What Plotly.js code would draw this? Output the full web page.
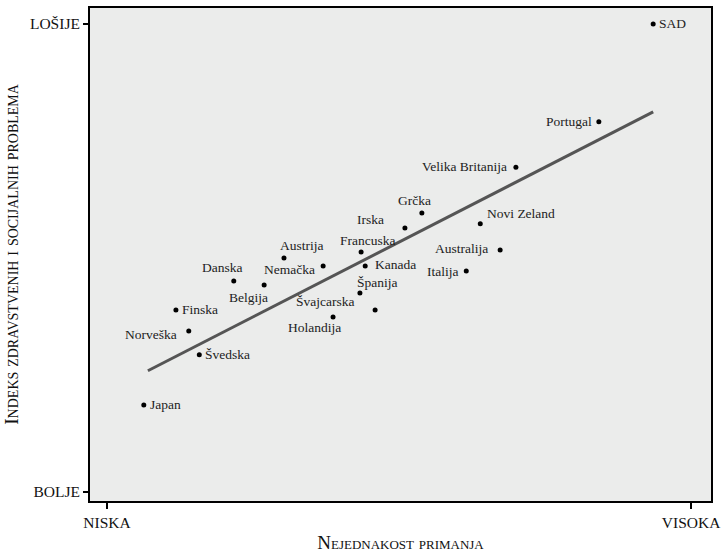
<!DOCTYPE html>
<html>
<head>
<meta charset="utf-8">
<script src="https://cdn.plot.ly/plotly-3.0.1.min.js"></script>
<style>html,body{margin:0;padding:0;background:#fff;}#chart{width:727px;height:554px;}</style>
</head>
<body>
<div id="chart"></div>
<script>
// Data (arbitrary index units: NISKA/BOLJE = 0, VISOKA/LOŠIJE = 100)
const countries = ["SAD","Portugal","Velika Britanija","Novi Zeland","Grčka","Irska","Australija","Italija","Francuska","Kanada","Španija","Švajcarska","Holandija","Nemačka","Austrija","Belgija","Danska","Finska","Norveška","Švedska","Japan"];
const inequality = [93.5, 84.2, 70.0, 63.9, 53.9, 51.0, 67.3, 61.5, 43.5, 44.2, 43.3, 45.9, 38.7, 37.0, 30.3, 26.9, 21.7, 11.8, 14.0, 15.8, 6.3];
const problemsIndex = [100.0, 79.1, 69.4, 57.3, 59.6, 56.4, 51.7, 47.2, 51.3, 48.3, 42.5, 38.9, 37.4, 48.3, 50.0, 44.2, 45.1, 38.9, 34.4, 29.3, 18.6];
const trendX = [7.0, 93.5];
const trendY = [25.9, 81.2];
const xTickVals = [0, 100];
const xTickText = ["NISKA", "VISOKA"];
const yTickVals = [0, 100];
const yTickText = ["BOLJE", "LOŠIJE"];

// Label placement (style): [xanchor, xshift, yshift]
const labelPlace = [
  ["left", 4, 0], ["right", -5, 0], ["right", -7, 1], ["left", 5, 10],
  ["center", -7, 13], ["center", -34, 9], ["right", -10, 2], ["right", -6, 0],
  ["center", 6, 11], ["left", 8, 1], ["center", 18, 11], ["right", -19, 8],
  ["center", -19, -11], ["right", -6, -4], ["center", 18, 12], ["center", -16, -12],
  ["center", -11, 13], ["left", 4, 0], ["right", -10, -4], ["left", 4, 0], ["left", 4, 0]
];

const FONT = "Liberation Serif";

const annotations = countries.map((c, i) => ({
  x: inequality[i], y: problemsIndex[i], xref: "x", yref: "y",
  text: c, showarrow: false,
  xanchor: labelPlace[i][0], yanchor: "middle",
  xshift: labelPlace[i][1], yshift: labelPlace[i][2],
  font: {family: FONT, size: 13.5, color: "#222"}
}));

const traces = [
  {x: trendX, y: trendY, mode: "lines", line: {color: "#555555", width: 3}, hoverinfo: "skip"},
  {x: inequality, y: problemsIndex, mode: "markers", marker: {color: "#000", size: 5}, text: countries}
];

const layout = {
  width: 727, height: 554,
  margin: {l: 90, r: 16, t: 8, b: 53},
  paper_bgcolor: "#ffffff",
  plot_bgcolor: "#ebeceb",
  showlegend: false,
  font: {family: FONT, size: 12, color: "#111"},
  xaxis: {
    range: [-2.91, 103.4], showgrid: false, zeroline: false,
    showline: true, mirror: true, linecolor: "#000", linewidth: 2,
    tickmode: "array", tickvals: xTickVals, ticktext: xTickText,
    ticks: "outside", ticklen: 6, tickwidth: 2, tickcolor: "#000",
    tickfont: {family: FONT, size: 15.5, color: "#111"},
    title: {text: "Nejednakost primanja", standoff: 6,
            font: {family: FONT, size: 19, color: "#111", variant: "small-caps"}}
  },
  yaxis: {
    range: [-1.92, 103.4], showgrid: false, zeroline: false,
    showline: true, mirror: true, linecolor: "#000", linewidth: 2,
    tickmode: "array", tickvals: yTickVals, ticktext: yTickText,
    ticks: "outside", ticklen: 5, tickwidth: 2, tickcolor: "#000",
    tickfont: {family: FONT, size: 15.5, color: "#111"},
    title: {text: "Indeks zdravstvenih i socijalnih problema", standoff: 6,
            font: {family: FONT, size: 19.5, color: "#111", variant: "small-caps"}}
  },
  annotations: annotations
};

Plotly.newPlot("chart", traces, layout, {displayModeBar: false, staticPlot: true});
</script>
</body>
</html>
